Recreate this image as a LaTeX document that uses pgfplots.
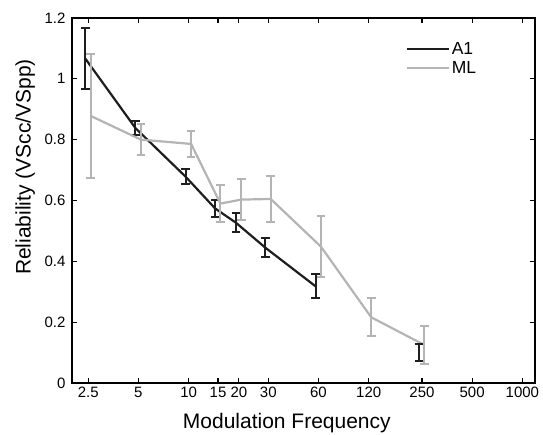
\documentclass[border=0pt]{standalone}
\usepackage{fontspec}
\setmainfont{Liberation Sans}
\usepackage{pgfplots}
\pgfplotsset{compat=1.18}
\usepackage{pgfplotstable}

\definecolor{aone}{HTML}{1E1E1E}
\definecolor{mlgrey}{HTML}{B4B4B4}

\pgfplotstableread{
x y e
2.4 1.067 0.100
4.8 0.838 0.023
9.6 0.678 0.025
14.4 0.574 0.027
19.2 0.527 0.032
28.8 0.445 0.032
57.6 0.318 0.040
}\tableA

\pgfplotstableread{
x y e
240 0.100 0.028
}\tableAlast

\pgfplotstableread{
x y e
2.59 0.878 0.205
5.18 0.800 0.052
10.35 0.786 0.043
15.5 0.590 0.060
20.7 0.603 0.067
31.05 0.605 0.075
62.1 0.448 0.100
124.2 0.216 0.063
258.8 0.125 0.064
}\tableML

\begin{document}
\begin{tikzpicture}
\path[use as bounding box] (-72pt,-51pt) rectangle (471pt,383pt);
\begin{axis}[
  at={(0,0)}, anchor=south west,
  scale only axis, width=463pt, height=365pt,
  xmode=log, xmin=2, xmax=1190, ymin=0, ymax=1.2,
  xtick={2.5,5,10,15,20,30,60,120,250,500,1000},
  xticklabels={2.5,5,10,15,20,30,60,120,250,500,1000},
  ytick={0,0.2,0.4,0.6,0.8,1,1.2},
  yticklabels={0,0.2,0.4,0.6,0.8,1,1.2},
  minor tick num=0, xminorticks=false, yminorticks=false,
  tick align=inside, major tick length=5pt,
  axis line style={line width=1.4pt},
  tick style={line width=1.2pt, black},
  ticklabel style={font=\fontsize{15}{17}\selectfont},
  yticklabel style={xshift=-3pt},
  xticklabel style={yshift=-0.5pt},
  xlabel={Modulation Frequency}, ylabel={Reliability (VScc/VSpp)},
  label style={font=\fontsize{21}{24}\selectfont},
  xlabel style={at={(axis description cs:0.464,-0.1096)}, anchor=center},
  ylabel style={at={(axis description cs:-0.101,0.592)}, anchor=center},
  legend style={draw=none, fill=none, at={(axis description cs:0.72,0.94)}, anchor=north west,
    font=\fontsize{17.5}{19}\selectfont, inner sep=0pt, row sep=1.5pt},
  legend cell align=left,
  legend image code/.code={\draw[#1, line width=2.2pt] (0pt,0pt) -- (42pt,0pt);},
]
\addplot[aone, line width=2.2pt, mark=none,
  error bars/.cd, y dir=both, y explicit,
  error bar style={line width=2pt, aone},
  error mark options={rotate=90, mark size=4.3pt, line width=2pt, aone}]
  table[x=x, y=y, y error=e]{\tableA};
\addlegendentry{A1}
\addplot[mlgrey, line width=2.2pt, mark=none,
  error bars/.cd, y dir=both, y explicit,
  error bar style={line width=2pt, mlgrey},
  error mark options={rotate=90, mark size=4.3pt, line width=2pt, mlgrey}]
  table[x=x, y=y, y error=e]{\tableML};
\addlegendentry{ML}
\addplot[aone, line width=2.2pt, mark=none, forget plot,
  error bars/.cd, y dir=both, y explicit,
  error bar style={line width=2pt, aone},
  error mark options={rotate=90, mark size=4.3pt, line width=2pt, aone}]
  table[x=x, y=y, y error=e]{\tableAlast};
\end{axis}
\end{tikzpicture}
\end{document}
